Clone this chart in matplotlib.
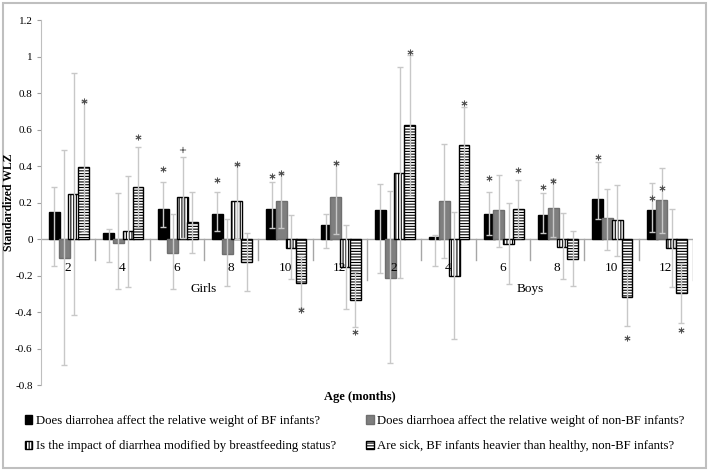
import matplotlib.pyplot as plt
import matplotlib.patches as mpatches
import numpy as np

plt.rcParams['font.family'] = ['Liberation Serif', 'DejaVu Sans']
plt.rcParams['hatch.linewidth'] = 0.8

# Age groups (months), girls first then boys
ages = ['2', '4', '6', '8', '10', '12', '2', '4', '6', '8', '10', '12']
sexes = ['Girls', 'Boys']

# Does diarrhoea affect the relative weight of BF infants? (black)
val_bf = [0.150, 0.032, 0.163, 0.135, 0.166, 0.075, 0.157, 0.013, 0.135, 0.132, 0.217, 0.159]
lo_bf = [-0.148, -0.128, 0.068, 0.044, 0.062, -0.049, -0.184, -0.146, 0.022, 0.035, 0.108, 0.037]
hi_bf = [0.287, 0.053, 0.310, 0.259, 0.314, 0.135, 0.300, 0.020, 0.259, 0.250, 0.420, 0.305]

# Does diarrhoea affect the relative weight of non-BF infants? (gray)
val_nbf = [-0.106, -0.024, -0.075, -0.080, 0.208, 0.228, -0.216, 0.210, 0.159, 0.170, 0.113, 0.214]
lo_nbf = [-0.690, -0.274, -0.274, -0.256, 0.058, 0.027, -0.681, -0.106, -0.042, 0.013, -0.060, 0.031]
hi_nbf = [0.490, 0.250, 0.137, 0.110, 0.360, 0.420, 0.263, 0.519, 0.351, 0.327, 0.274, 0.387]

# Is the impact of diarrhea modified by breastfeeding status? (vertical stripes)
val_int = [0.245, 0.042, 0.228, 0.206, -0.047, -0.153, 0.363, -0.200, -0.026, -0.042, 0.104, -0.051]
lo_int = [-0.416, -0.265, 0.005, 0.000, -0.221, -0.384, -0.216, -0.548, -0.247, -0.221, -0.091, -0.265]
hi_int = [0.910, 0.345, 0.451, 0.410, 0.132, 0.077, 0.940, 0.146, 0.200, 0.144, 0.298, 0.164]

# Are sick, BF infants heavier than healthy, non-BF infants? (horizontal stripes)
val_sick = [0.396, 0.287, 0.093, -0.126, -0.243, -0.334, 0.623, 0.515, 0.164, -0.110, -0.316, -0.298]
lo_sick = [0.036, 0.068, -0.075, -0.283, -0.380, -0.484, 0.236, 0.300, 0.004, -0.258, -0.475, -0.459]
hi_sick = [0.758, 0.506, 0.259, 0.035, -0.091, -0.180, 1.010, 0.725, 0.323, 0.046, -0.160, -0.133]

# significance markers: group, series, height, symbol
star_grp = [0, 1, 2, 2, 3, 3, 4, 4, 4, 5, 5, 6, 7, 8, 8, 9, 9, 10, 10, 11, 11, 11]
star_ser = [3, 3, 0, 2, 0, 2, 0, 1, 3, 1, 3, 3, 3, 0, 3, 0, 1, 0, 3, 0, 1, 3]
star_y = [0.756, 0.561, 0.384, 0.488, 0.323, 0.411, 0.345, 0.363, -0.391, 0.415, -0.508,
          1.023, 0.743, 0.336, 0.378, 0.283, 0.320, 0.451, -0.544, 0.223, 0.278, -0.499]
star_sym = ['*', '*', '*', '+', '*', '*', '*', '*', '*', '*', '*',
            '*', '*', '*', '*', '*', '*', '*', '*', '*', '*', '*']

labels = ['Does diarrohea affect the relative weight of BF infants?',
          'Does diarrhoea affect the relative weight of non-BF infants?',
          'Is the impact of diarrhea modified by breastfeeding status?',
          'Are sick, BF infants heavier than healthy, non-BF infants?']

series = [(val_bf, lo_bf, hi_bf), (val_nbf, lo_nbf, hi_nbf),
          (val_int, lo_int, hi_int), (val_sick, lo_sick, hi_sick)]
faces = ['black', '#7f7f7f', 'white', 'white']
edges = ['black', '#6f6f6f', 'black', 'black']
hatches = [None, None, '||||||', '------']

fig = plt.figure(figsize=(7.09, 4.72), dpi=100)
ax = fig.add_axes([0.0578, 0.1843, 0.9196, 0.7733])

x = np.arange(len(ages))
width = 0.2
offsets = (np.arange(4) - 1.5) * 0.179 + 0.016

handles = []
for k, (val, lo, hi) in enumerate(series):
    val = np.array(val)
    xs = x + offsets[k]
    b = ax.bar(xs, val, width, color=faces[k], edgecolor=edges[k], hatch=hatches[k],
               linewidth=1.0, zorder=2, label=labels[k])
    handles.append(b)
    yerr = [np.abs(val - np.array(lo)), np.abs(np.array(hi) - val)]
    ax.errorbar(xs, val, yerr=yerr, fmt='none', ecolor='#c8c8c8', elinewidth=1,
                capsize=2.5, capthick=1, zorder=3)

for g, s, y, sym in zip(star_grp, star_ser, star_y, star_sym):
    ax.plot(g + offsets[s], y, marker='$' + sym + '$', color='#444444',
            markersize=4, markeredgewidth=0.3, linestyle='none', zorder=4)

ticks = np.arange(-0.8, 1.21, 0.2)
ax.set_xlim(-0.5, 11.5)
ax.set_ylim(-0.8, 1.2)
ax.set_yticks(ticks)
ax.set_yticklabels(['%g' % (round(t, 1) + 0.0) for t in ticks], fontsize=8)
ax.set_xticks([])
ax.tick_params(axis='y', length=3, color='#a0a0a0', pad=3)
for sp in ['top', 'right', 'bottom']:
    ax.spines[sp].set_visible(False)
ax.spines['left'].set_color('#bfbfbf')
ax.axhline(0, color='#a6a6a6', linewidth=1, zorder=1)

# category separators and labels
for i in range(1, 13):
    xb = i - 0.5
    depth = -0.225 if i in (6, 12) else -0.115
    ax.plot([xb, xb], [0, depth], color='#a6a6a6', linewidth=1, zorder=1)
for i, a in enumerate(ages):
    ax.text(i, -0.16, a, ha='center', va='center', fontsize=9.5)
ax.text(2.5, -0.275, sexes[0], ha='center', va='center', fontsize=9.5)
ax.text(8.5, -0.275, sexes[1], ha='center', va='center', fontsize=9.5)

fig.text(0.013, 1 - 202 / 472, 'Standardized WLZ', rotation=90, ha='center', va='center',
         fontsize=8.5, fontweight='bold')
fig.text(0.508, 1 - 397 / 472, 'Age (months)', ha='center', va='center',
         fontsize=9, fontweight='bold')

leg_kw = dict(loc='center left', frameon=False, fontsize=9.2, handlelength=0.6,
              handleheight=0.7, handletextpad=0.25, labelspacing=1.05,
              borderpad=0, borderaxespad=0)
fig.legend(handles[0::2], labels[0::2], bbox_to_anchor=(0.035, 0.081), **leg_kw)
fig.legend(handles[1::2], labels[1::2], bbox_to_anchor=(0.516, 0.081), **leg_kw)

fig.add_artist(mpatches.Rectangle((0.004, 0.008), 0.992, 0.986, transform=fig.transFigure,
                                  fill=False, edgecolor='#bfbfbf', linewidth=1.5))

fig.savefig('out.png', dpi=100)
